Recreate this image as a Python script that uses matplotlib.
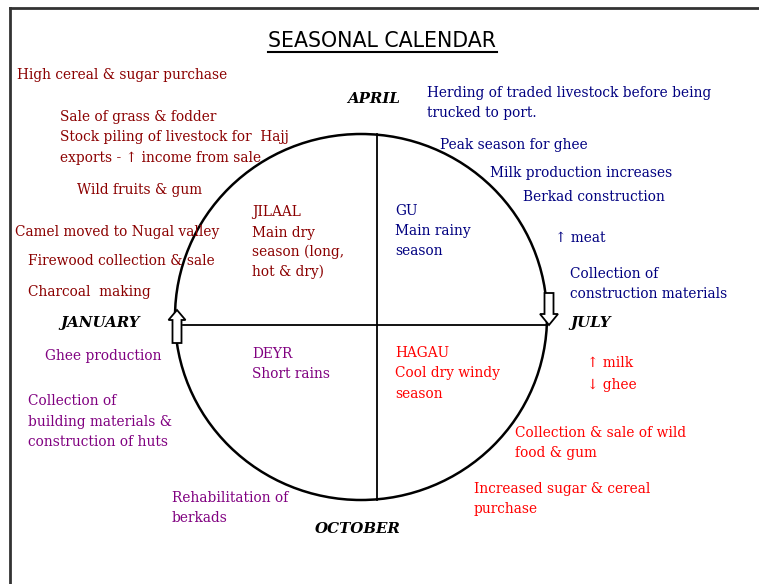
import numpy as np
import matplotlib.pyplot as plt
from matplotlib.patches import Ellipse, FancyArrow

#text blocks of the seasonal calendar (one list per colour group)
dry_labels = ["High cereal & sugar purchase", "Sale of grass & fodder",
              "Stock piling of livestock for  Hajj", "exports - \u2191 income from sale",
              "Wild fruits & gum", "Camel moved to Nugal valley",
              "Firewood collection & sale", "Charcoal  making",
              "JILAAL", "Main dry", "season (long,", "hot & dry)"]
gu_labels = ["Herding of traded livestock before being", "trucked to port.",
             "Peak season for ghee", "Milk production increases", "Berkad construction",
             "GU", "Main rainy", "season", "\u2191 meat",
             "Collection of", "construction materials"]
deyr_labels = ["Ghee production", "DEYR", "Short rains", "Collection of",
               "building materials &", "construction of huts",
               "Rehabilitation of", "berkads"]
hagau_labels = ["HAGAU", "Cool dry windy", "season", "\u2191 milk", "\u2193 ghee",
                "Collection & sale of wild", "food & gum",
                "Increased sugar & cereal", "purchase"]
months = ["APRIL", "JANUARY", "JULY", "OCTOBER"]
title = "SEASONAL CALENDAR"

#where each line starts (x, baseline y) in pixels
dry_pos = [(17, 79), (60, 121), (60, 141), (60, 162), (77, 194), (15, 236),
           (28, 265), (28, 296), (252, 216), (252, 237), (252, 256), (252, 276)]
gu_pos = [(427, 97), (427, 117), (440, 149), (490, 177), (523, 201),
          (395, 215), (395, 235), (395, 255), (555, 242), (570, 278), (570, 298)]
deyr_pos = [(45, 360), (252, 358), (252, 378), (28, 405), (28, 426), (28, 446),
            (172, 502), (172, 522)]
hagau_pos = [(395, 357), (395, 377), (395, 398), (587, 367), (587, 389),
             (515, 437), (515, 457), (474, 493), (474, 513)]
month_pos = [(347, 103), (60, 327), (570, 327), (315, 533)]

W, H = 759, 584
fig = plt.figure(figsize=(W / 100, H / 100), dpi=100)
ax = fig.add_axes([0, 0, 1, 1])
ax.set_xlim(0, W)
ax.set_ylim(H, 0)
ax.axis('off')

serif = ['DejaVu Serif', 'Liberation Serif']

def put(labels, pos, color):
    for s, (x, y) in zip(labels, pos):
        ax.text(x, y, s, color=color, fontsize=9.9, family=serif, va='baseline', ha='left')

put(dry_labels, dry_pos, '#8B0000')
put(gu_labels, gu_pos, '#000080')
put(deyr_labels, deyr_pos, '#800080')
put(hagau_labels, hagau_pos, '#FF0000')

for s, (x, y) in zip(months, month_pos):
    ax.text(x, y, s, fontsize=10.8, family=serif, style='italic', weight='bold', va='baseline')

#title with underline
ax.text(268, 47, title, fontsize=14.8, family='DejaVu Sans', va='baseline')
ax.plot([268, 497], [52, 52], color='black', lw=1.5)

#frame (top and left only)
ax.plot([10, W], [8, 8], color='#333333', lw=2)
ax.plot([10, 10], [8, H], color='#333333', lw=2)

#circle and cross
ax.add_patch(Ellipse((361, 317), 372, 366, fill=False, ec='black', lw=1.8))
ax.plot([377, 377], [134, 500], color='black', lw=1.3)
ax.plot([183, 547], [325, 325], color='black', lw=1.3)

#hollow arrows on the circle
ax.add_patch(FancyArrow(177, 343, 0, -33, width=9, head_width=17, head_length=10,
                        length_includes_head=True, fill=True, fc='white', ec='black', lw=1.3))
ax.add_patch(FancyArrow(549, 293, 0, 32, width=9, head_width=18, head_length=11,
                        length_includes_head=True, fill=True, fc='white', ec='black', lw=1.3))

plt.savefig('out.png', dpi=100)
